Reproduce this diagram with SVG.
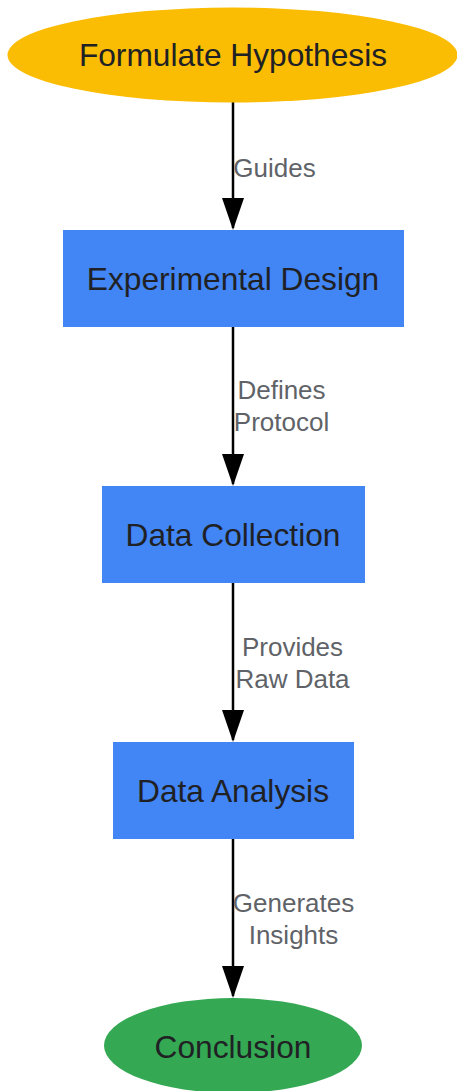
<svg xmlns="http://www.w3.org/2000/svg" width="457" height="1091" viewBox="0 0 457 1091">
<defs>
<style>
.node-text{font-family:"Liberation Sans",Arial,sans-serif;font-size:31.7px;fill:#202124;text-anchor:middle}
.lbl{font-family:"Liberation Sans",Arial,sans-serif;font-size:26px;fill:#5F6368;text-anchor:middle}
.edge{stroke:#000;stroke-width:2.5;fill:none;marker-end:url(#arrow)}
</style>
<marker id="arrow" markerUnits="userSpaceOnUse" viewBox="0 0 32 22" refX="30" refY="11" markerWidth="32" markerHeight="22" orient="auto">
<path d="M0,0 L32,11 L0,22 Z" fill="#000"/>
</marker>
</defs>
<rect width="457" height="1091" fill="#fff"/>
<g id="connectors">
<path class="edge" d="M233,102 V228"/>
<path class="edge" d="M233,327 V484"/>
<path class="edge" d="M233,583 V740"/>
<path class="edge" d="M233,839 V996"/>
<text class="lbl" x="274.5" y="177">Guides</text>
<text class="lbl" x="281.5" y="399">Defines</text>
<text class="lbl" x="281.5" y="431">Protocol</text>
<text class="lbl" x="292.5" y="656">Provides</text>
<text class="lbl" x="292.5" y="688">Raw Data</text>
<text class="lbl" x="293.5" y="912">Generates</text>
<text class="lbl" x="293.5" y="944">Insights</text>
</g>
<g id="node-hypothesis">
<ellipse cx="232.5" cy="55" rx="225" ry="47.5" fill="#FBBC04"/>
<text class="node-text" x="233" y="66">Formulate Hypothesis</text>
</g>
<g id="node-design">
<rect x="63" y="230" width="341" height="97" fill="#4285F4"/>
<text class="node-text" x="233" y="290">Experimental Design</text>
</g>
<g id="node-collection">
<rect x="102" y="486" width="263" height="97" fill="#4285F4"/>
<text class="node-text" x="233" y="546">Data Collection</text>
</g>
<g id="node-analysis">
<rect x="113" y="742" width="241" height="97" fill="#4285F4"/>
<text class="node-text" x="233" y="802">Data Analysis</text>
</g>
<g id="node-conclusion">
<ellipse cx="233" cy="1045.5" rx="129" ry="47.5" fill="#34A853"/>
<text class="node-text" x="233" y="1058">Conclusion</text>
</g>
</svg>
